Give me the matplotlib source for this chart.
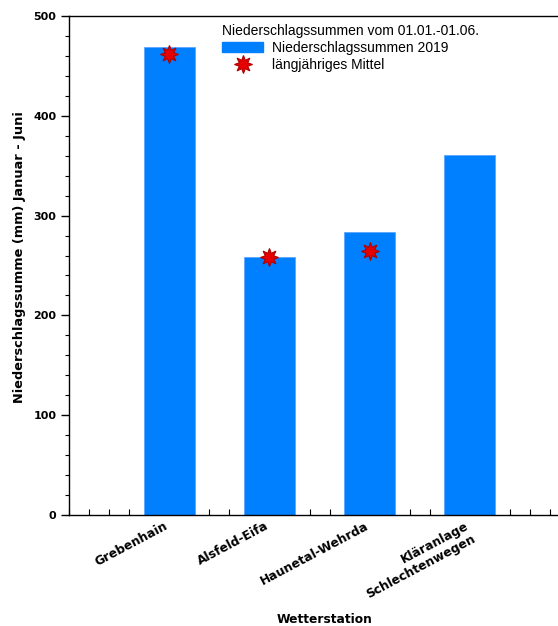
import matplotlib
matplotlib.use("Agg")
import matplotlib.pyplot as plt
from matplotlib.ticker import MultipleLocator, NullFormatter
from matplotlib.lines import Line2D
from matplotlib.patches import Patch

plt.rcParams['font.family'] = ['Liberation Sans', 'DejaVu Sans']

stations = ["Grebenhain", "Alsfeld-Eifa", "Haunetal-Wehrda", "Kläranlage\nSchlechtenwegen"]
sums_2019 = [469, 259, 284, 361]
long_term_mean = [462, 259, 265, None]

bar_color = "#0080ff"
star_color = "#e60000"
star_edge = "#b00000"
wide_bold = dict(family=['DejaVu Sans'], fontweight='bold', fontsize=8.8)

fig = plt.figure(figsize=(5.58, 6.26), dpi=100)
ax = fig.add_axes([0.1237, 0.1773, 0.8763, 0.7971])

x = list(range(1, len(stations) + 1))
ax.bar(x, sums_2019, width=0.51, color=bar_color, edgecolor="#5aa8ff", linewidth=0.6, zorder=1)

mx = [xi for xi, m in zip(x, long_term_mean) if m is not None]
my = [m for m in long_term_mean if m is not None]
ax.plot(mx, my, linestyle="none", marker=(8, 1, 0), markersize=13,
        markerfacecolor=star_color, markeredgecolor=star_edge, markeredgewidth=0.8, zorder=3)

ax.set_xlim(0, 4.88)
ax.set_ylim(0, 500)
ax.set_axisbelow(True)

ax.spines['right'].set_visible(False)
for s in ['left', 'bottom', 'top']:
    ax.spines[s].set_linewidth(1.0)

ax.yaxis.set_major_locator(MultipleLocator(100))
ax.yaxis.set_minor_locator(MultipleLocator(20))
ax.tick_params(axis='y', which='major', direction='out', length=6, width=1, pad=3)
ax.tick_params(axis='y', which='minor', direction='out', length=3, width=0.8)
ax.tick_params(axis='y', right=False)
for lab in ax.get_yticklabels():
    lab.set_family(['DejaVu Sans'])
    lab.set_fontweight('bold')
    lab.set_fontsize(8)

# category labels drawn as rotated annotations under each bar
ax.set_xticks(x)
ax.xaxis.set_major_formatter(NullFormatter())
for xi, name in zip(x, stations):
    ax.annotate(name, xy=(xi, 0), xycoords=ax.get_xaxis_transform(),
                xytext=(-5, -4), textcoords='offset pixels',
                rotation=28, ha='right', va='top', rotation_mode='anchor',
                annotation_clip=False, **wide_bold)
ax.xaxis.set_minor_locator(MultipleLocator(0.2))
ax.tick_params(axis='x', which='major', length=0)
ax.tick_params(axis='x', which='minor', direction='in', length=4, width=0.8, top=False)

ax.set_ylabel("Niederschlagssumme (mm) Januar - Juni", family=['DejaVu Sans'],
              fontweight='bold', fontsize=9.3)
ax.yaxis.set_label_coords(-0.088, 0.516)
ax.set_xlabel("Wetterstation", **wide_bold)
ax.xaxis.set_label_coords(0.5235, -0.197)

handles = [Patch(facecolor=bar_color, edgecolor=bar_color),
           Line2D([], [], linestyle="none", marker=(8, 1, 0), markersize=13,
                  markerfacecolor=star_color, markeredgecolor=star_edge, markeredgewidth=0.8)]
leg = fig.legend(handles, ["Niederschlagssummen 2019", "längjähriges Mittel"],
                 title="Niederschlagssummen vom 01.01.-01.06.",
                 loc='upper left', bbox_to_anchor=(0.398, 0.9616), frameon=False,
                 fontsize=10, title_fontsize=10, alignment='left',
                 handlelength=2.95, handleheight=0.7, handletextpad=0.65,
                 labelspacing=0.2, borderpad=0.0, borderaxespad=0.0)

fig.savefig("out.png", dpi=100)
